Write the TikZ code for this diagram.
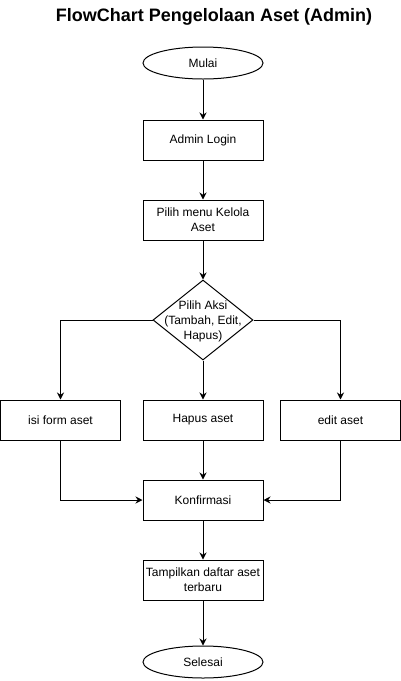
\documentclass[tikz,border=0pt]{standalone}
\usepackage{fontspec}
\setmainfont{Liberation Sans}
\usetikzlibrary{shapes.geometric,arrows.meta}

\begin{document}
\begin{tikzpicture}[x=1pt,y=-1pt,
  every node/.style={font=\fontsize{12}{15}\selectfont},
  terminal/.style={ellipse, draw, line width=1pt, minimum width=120pt, minimum height=32pt, inner sep=0pt},
  process/.style={rectangle, draw, line width=1pt, minimum width=120pt, minimum height=40pt, inner sep=0pt, align=center},
  decision/.style={diamond, draw, line width=1pt, minimum width=100pt, minimum height=80pt, inner sep=0pt},
  flow/.style={-{Stealth[length=7pt,width=7pt]}, line width=1pt}]

\useasboundingbox (0,0) rectangle (401,681);

% Title
\node[font=\fontsize{18}{22}\selectfont\bfseries] (title) at (214,17) {FlowChart Pengelolaan Aset (Admin)};

% Main column
\node[terminal] (mulai) at (203,63) {Mulai};
\node[process] (login) at (203,140) {Admin Login};
\node[process] (menu) at (203,220) {Pilih menu Kelola\\Aset};

% Decision
\node[decision] (aksi) at (203,320) {};
\node[align=center] (aksitext) at (203,321) {Pilih Aksi\\(Tambah, Edit,\\Hapus)};

% Three actions
\node[process] (isi) at (60.5,420) {isi form aset};
\node[process] (hapus) at (203,420) {Hapus aset};
\node[process] (edit) at (340.5,420) {edit aset};

% Closing steps
\node[process] (konf) at (203,500) {Konfirmasi};
\node[process] (tampil) at (203,580) {Tampilkan daftar aset\\terbaru};
\node[terminal] (selesai) at (203,662) {Selesai};

% Arrows
\draw[flow] (mulai) -- (login);
\draw[flow] (login) -- (menu);
\draw[flow] (menu) -- (aksi);
\draw[flow] (aksi.west) -| (isi.north);
\draw[flow] (aksi.south) -- (hapus.north);
\draw[flow] (aksi.east) -| (edit.north);
\draw[flow] (isi.south) |- (konf.west);
\draw[flow] (hapus) -- (konf);
\draw[flow] (edit.south) |- (konf.east);
\draw[flow] (konf) -- (tampil);
\draw[flow] (tampil) -- (selesai);

\end{tikzpicture}
\end{document}
